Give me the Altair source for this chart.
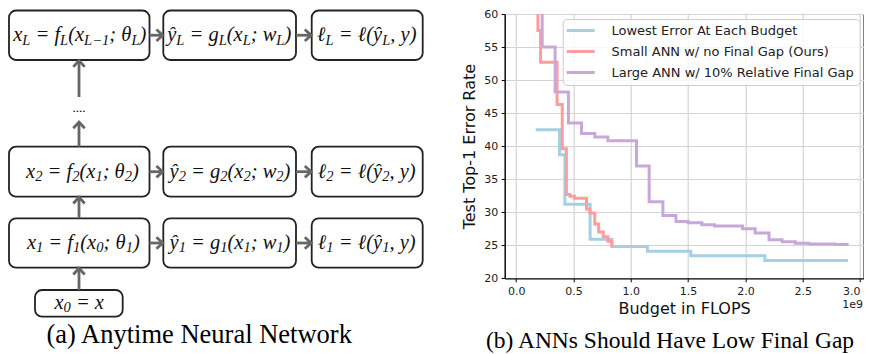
import altair as alt
import pandas as pd

# ---------------- data for panel (b) ----------------
SERIES = ["Lowest Error At Each Budget",
          "Small ANN w/ no Final Gap (Ours)",
          "Large ANN w/ 10% Relative Final Gap"]
COLORS = ["#a6cfe4", "#ff9c9c", "#c8a8d9"]

lowest_x = [0.17, 0.378, 0.425, 0.645, 0.835, 1.145, 1.523, 2.17, 2.895]
lowest_y = [42.5, 38.7, 31.2, 25.9, 24.8, 24.1, 23.4, 22.7, 22.7]

small_x = [0.19, 0.19, 0.213, 0.357, 0.402, 0.438, 0.47, 0.51, 0.614, 0.643,
           0.686, 0.72, 0.76, 0.80, 0.835]
small_y = [62.0, 57.5, 52.7, 46.3, 39.6, 32.7, 32.4, 32.1, 30.5, 29.9,
           28.2, 27.0, 26.3, 25.6, 24.7]

large_x = [0.227, 0.227, 0.34, 0.456, 0.57, 0.686, 0.80, 1.05, 1.16, 1.28,
           1.394, 1.50, 1.62, 1.73, 1.975, 2.085, 2.206, 2.32, 2.435, 2.55,
           2.78, 2.90]
large_y = [62.0, 55.0, 48.2, 43.5, 41.9, 41.4, 40.8, 37.0, 31.6, 29.5,
           28.6, 28.4, 28.1, 27.9, 27.5, 26.85, 25.85, 25.55, 25.3, 25.2,
           25.1, 25.1]

X_TICKS = [0.0, 0.5, 1.0, 1.5, 2.0, 2.5, 3.0]
Y_TICKS = [20, 25, 30, 35, 40, 45, 50, 55, 60]

# ---------------- text of panel (a) ----------------
ROWS = ["L", "2", "1"]
BOX_LABELS = {
    "L": ["x_{L} = f_{L}(x_{L−1}; θ_{L})", "ŷ_{L} = g_{L}(x_{L}; w_{L})", "ℓ_{L} = ℓ(ŷ_{L}, y)"],
    "2": ["x_{2} = f_{2}(x_{1}; θ_{2})", "ŷ_{2} = g_{2}(x_{2}; w_{2})", "ℓ_{2} = ℓ(ŷ_{2}, y)"],
    "1": ["x_{1} = f_{1}(x_{0}; θ_{1})", "ŷ_{1} = g_{1}(x_{1}; w_{1})", "ℓ_{1} = ℓ(ŷ_{1}, y)"],
}
INPUT_LABEL = "x_{0} = x"
DOTS = "...."
CAPTION_A = "(a) Anytime Neural Network"
CAPTION_B = "(b) ANNs Should Have Low Final Gap"
OFFSET_TEXT = "1e9"

# ---------------- layout (page pixels) ----------------
PLOT_LEFT, PLOT_TOP, PLOT_RIGHT, PLOT_BOTTOM = 504.7, 14.0, 863.5, 278.3
W, H = PLOT_RIGHT - PLOT_LEFT, PLOT_BOTTOM - PLOT_TOP
ROW_TOP = {"L": 10.5, "2": 146.7, "1": 218.3}
ROW_BOT = {"L": 60.0, "2": 196.7, "1": 267.7}
COL_LEFT = [9.0, 163.3, 311.7]
COL_RIGHT = [149.5, 296.0, 422.7]
LABEL_CX = {"L": [79.7, 229.2, 366.7], "2": [82.5, 230.0, 366.7], "1": [83.3, 230.0, 366.7]}
INPUT_BOX = (35.0, 122.7, 290.0, 316.7)
INPUT_CX = 79.2
SPINE_X = 79.0
V_ARROWS = [(290.0, 268.2), (218.3, 197.2), (146.7, 122.0), (97.0, 60.6)]
DOTS_POS = (79.0, 112.0)
CAP_A = (199.2, 343.3, 26.5)
CAP_B = (670.0, 348.3, 23.5)
OFFSET_POS = (863.0, 305.0)

MAIN_FS, SUB_FS, SUB_DY, BASE_DY = 20.5, 14.5, 3.5, 5.8
W_EM = {'x': 0.444, 'f': 0.278, 'g': 0.5, 'w': 0.667, 'y': 0.444, 'ŷ': 0.444,
        'L': 0.556, 'θ': 0.5, 'ℓ': 0.42, '=': 0.675, '(': 0.333, ')': 0.333,
        ';': 0.333, ',': 0.25, ' ': 0.25, '0': 0.5, '1': 0.5, '2': 0.5, '−': 0.675}


def parse(markup):
    toks, buf, i = [], "", 0
    while i < len(markup):
        if markup.startswith("_{", i):
            if buf:
                toks.append((buf, False))
                buf = ""
            j = markup.index("}", i)
            toks.append((markup[i + 2:j], True))
            i = j + 1
        else:
            buf += markup[i]
            i += 1
    if buf:
        toks.append((buf, False))
    return toks


def layout(markup, cx, baseline):
    pieces, pen = [], 0.0
    for text, sub in parse(markup):
        fs = SUB_FS if sub else MAIN_FS
        run, run_x = "", 0.0
        for ch in text:
            if ch == " ":
                if run:
                    pieces.append((run_x, run, fs, sub))
                    run = ""
                pen += W_EM[" "] * fs
            else:
                if not run:
                    run_x = pen
                run += ch
                pen += W_EM.get(ch, 0.5) * fs
        if run:
            pieces.append((run_x, run, fs, sub))
    start = cx - pen / 2
    return [dict(px=start + x, py=baseline + (SUB_DY if sub else 0.0), text=t, fs=fs)
            for x, t, fs, sub in pieces]


# ---------------- build tables ----------------
rows = []
for name, xs, ys in zip(SERIES, [lowest_x, small_x, large_x], [lowest_y, small_y, large_y]):
    for i, (xv, yv) in enumerate(zip(xs, ys)):
        rows.append(dict(series=name, budget=xv, err=yv, i=i))
lines_df = pd.DataFrame(rows)

boxes, tokens, shafts, heads = [], [], [], []
UP = "M-1,1.1L0,0L1,1.1"
RIGHT = "M-1.1,-1L0,0L-1.1,1"
for r in ROWS:
    cy = (ROW_TOP[r] + ROW_BOT[r]) / 2
    for c in range(3):
        boxes.append(dict(x1=COL_LEFT[c], x2=COL_RIGHT[c], y1=ROW_TOP[r], y2=ROW_BOT[r]))
        tokens += layout(BOX_LABELS[r][c], LABEL_CX[r][c], cy + BASE_DY)
    for c in range(2):
        tip = COL_LEFT[c + 1] - 0.6
        shafts.append(dict(x1=COL_RIGHT[c], x2=tip - 1.5, y1=cy, y2=cy))
        heads.append(dict(px=tip, py=cy, shape=RIGHT))
boxes.append(dict(x1=INPUT_BOX[0], x2=INPUT_BOX[1], y1=INPUT_BOX[2], y2=INPUT_BOX[3]))
tokens += layout(INPUT_LABEL, INPUT_CX, (INPUT_BOX[2] + INPUT_BOX[3]) / 2 + 5.3)
for tail, tip in V_ARROWS:
    shafts.append(dict(x1=SPINE_X, x2=SPINE_X, y1=tail, y2=tip + 1.5))
    heads.append(dict(px=SPINE_X, py=tip, shape=UP))

plain = pd.DataFrame([
    dict(px=CAP_A[0], py=CAP_A[1], text=CAPTION_A, fs=CAP_A[2]),
    dict(px=CAP_B[0], py=CAP_B[1], text=CAPTION_B, fs=CAP_B[2]),
    dict(px=DOTS_POS[0], py=DOTS_POS[1], text=DOTS, fs=13),
])
offset_df = pd.DataFrame([dict(px=OFFSET_POS[0], py=OFFSET_POS[1], text=OFFSET_TEXT)])

PX = alt.Scale(domain=[PLOT_LEFT, PLOT_LEFT + W], range=[0, W], nice=False, zero=False)
PY = alt.Scale(domain=[PLOT_TOP, PLOT_TOP + H], range=[0, H], nice=False, zero=False)


def pxy():
    return dict(x=alt.X("px:Q", scale=PX, axis=None), y=alt.Y("py:Q", scale=PY, axis=None))


# ---------------- panel (b) ----------------
lines = alt.Chart(lines_df).mark_line(interpolate="step-after", strokeWidth=3, clip=True).encode(
    x=alt.X("budget:Q", scale=alt.Scale(domain=[-0.1, 3.03], nice=False, zero=False),
            axis=alt.Axis(values=X_TICKS, format=".1f", title="Budget in FLOPS", grid=True,
                          titlePadding=4, labelFlush=5)),
    y=alt.Y("err:Q", scale=alt.Scale(domain=[20, 60], nice=False, zero=False),
            axis=alt.Axis(values=Y_TICKS, title="Test Top-1 Error Rate", grid=True,
                          titlePadding=6)),
    color=alt.Color("series:N", scale=alt.Scale(domain=SERIES, range=COLORS),
                    legend=alt.Legend(title=None, orient="none", legendX=58.0, legendY=5.0,
                                      labelFont="DejaVu Sans", labelFontSize=13, labelColor="#222",
                                      symbolType="M-5.6,0L5.6,0", symbolSize=25,
                                      symbolStrokeWidth=3, symbolOffset=6.5, labelOffset=24.3,
                                      rowPadding=7, padding=5, strokeColor="#cccccc",
                                      fillColor="rgba(255,255,255,0.8)", cornerRadius=4,
                                      labelLimit=400)),
    order=alt.Order("i:Q"),
)

# ---------------- panel (a) ----------------
box_layer = alt.Chart(pd.DataFrame(boxes)).mark_rect(
    fill="white", stroke="#222", strokeWidth=1.8, cornerRadius=7).encode(
    x=alt.X("x1:Q", scale=PX, axis=None), x2="x2:Q",
    y=alt.Y("y1:Q", scale=PY, axis=None), y2="y2:Q")

shaft_layer = alt.Chart(pd.DataFrame(shafts)).mark_rule(color="#666", strokeWidth=2.8).encode(
    x=alt.X("x1:Q", scale=PX, axis=None), x2="x2:Q",
    y=alt.Y("y1:Q", scale=PY, axis=None), y2="y2:Q")

head_layer = alt.Chart(pd.DataFrame(heads)).mark_point(
    filled=False, stroke="#666", strokeWidth=2.8, size=130, opacity=1, strokeJoin="miter").encode(
    shape=alt.Shape("shape:N", scale=None), **pxy())

token_layer = alt.Chart(pd.DataFrame(tokens)).mark_text(
    align="left", baseline="alphabetic", font="Liberation Serif", fontStyle="italic",
    color="#111").encode(text="text:N", size=alt.Size("fs:Q", scale=None), **pxy())

plain_layer = alt.Chart(plain).mark_text(
    align="center", baseline="alphabetic", font="Liberation Serif", color="#000").encode(
    text="text:N", size=alt.Size("fs:Q", scale=None), **pxy())

offset_layer = alt.Chart(offset_df).mark_text(
    align="right", baseline="middle", font="DejaVu Sans", fontSize=11, color="#222").encode(
    text="text:N", **pxy())

chart = alt.layer(lines, box_layer, shaft_layer, head_layer, token_layer, plain_layer,
                  offset_layer).resolve_scale(
    x="independent", y="independent", size="independent", shape="independent"
).properties(
    width=W, height=H,
    autosize=alt.AutoSizeParams(type="none"),
    padding={"left": PLOT_LEFT - 8, "top": PLOT_TOP - 8,
             "right": 864 - PLOT_RIGHT, "bottom": 346 - (PLOT_TOP - 8) - H},
).configure_view(stroke="black", strokeWidth=1).configure_axis(
    labelFont="DejaVu Sans", labelFontSize=11, labelColor="#222",
    titleFont="DejaVu Sans", titleFontSize=16, titleFontWeight="normal", titleColor="#111",
    domainColor="black", tickColor="black", tickSize=3.5, labelPadding=3.5,
    gridColor="#d4d4d4", gridWidth=1.2,
)

chart.save("out.html", embed_options={"renderer": "svg", "actions": False})
